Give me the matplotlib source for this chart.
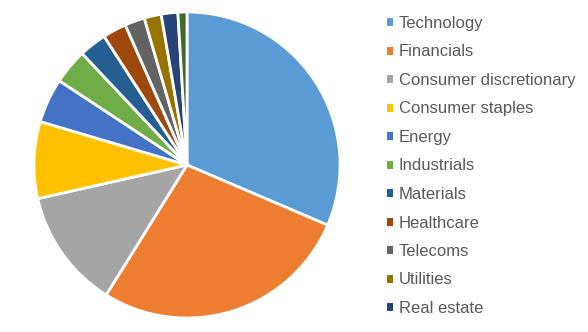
import matplotlib
matplotlib.use("Agg")
import matplotlib.pyplot as plt
from matplotlib.patches import Patch

plt.rcParams['font.family'] = ['Liberation Sans', 'DejaVu Sans']

sectors = ["Technology", "Financials", "Consumer discretionary", "Consumer staples",
           "Energy", "Industrials", "Materials", "Healthcare", "Telecoms",
           "Utilities", "Real estate", "Other"]
weights = [31.4, 27.4, 12.6, 8.1, 4.7, 3.7, 2.9, 2.5, 2.1, 1.8, 1.75, 0.95]
colors = ["#5B9BD5", "#ED7D31", "#A5A5A5", "#FFC000", "#4472C4", "#70AD47",
          "#255E91", "#9E480E", "#636363", "#997300", "#264478", "#43682B"]
legend_count = 11

W, H = 588, 332
fig = plt.figure(figsize=(W / 100, H / 100), dpi=100)
cx, cy, r = 187, 165, 153
ax = fig.add_axes([(cx - r) / W, (H - cy - r) / H, 2 * r / W, 2 * r / H])
ax.pie(weights, colors=colors, startangle=90, counterclock=False,
       wedgeprops=dict(edgecolor="white", linewidth=2))
ax.set_xlim(-1.0, 1.0)
ax.set_ylim(-1.0, 1.0)
ax.set_aspect("equal")
ax.axis("off")

handles = [Patch(facecolor=c, edgecolor="none") for c in colors[:legend_count]]
leg = fig.legend(handles, sectors[:legend_count], loc="upper left",
                 bbox_to_anchor=(387 / W, 1 - 16 / H), frameon=False,
                 fontsize=12, handlelength=0.36, handleheight=0.36,
                 handletextpad=0.36, labelspacing=0.81, borderpad=0,
                 borderaxespad=0)
for t in leg.get_texts():
    t.set_color("#595959")

fig.savefig("out.png", dpi=100, facecolor="white")
